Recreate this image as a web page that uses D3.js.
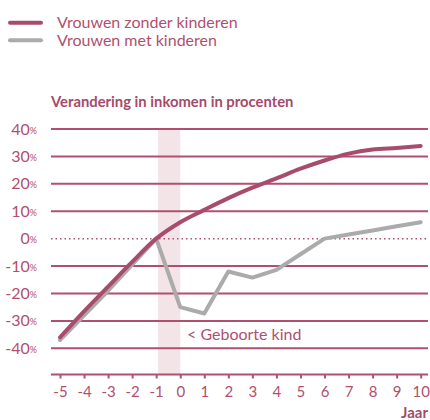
<!DOCTYPE html>
<html>
<head>
<meta charset="utf-8">
<script src="https://cdn.jsdelivr.net/npm/d3@7/dist/d3.min.js"></script>
<style>
  body { margin: 0; background: #fff; }
  text { font-family: Lato, "Open Sans", sans-serif; }
</style>
</head>
<body>
<div class="chart"></div>
<script>
// Data
var years = [-5, -4, -3, -2, -1, 0, 1, 2, 3, 4, 5, 6, 7, 8, 9, 10];
var zonderKinderen = [-36, -26.5, -17.5, -8.5, 0, 6, 10.5, 14.8, 18.6, 22, 25.5, 28.5, 31, 32.5, 33.1, 33.8];
var metKinderen = [-37, -28, -19, -9.5, 0, -25, -27.3, -12, -14.2, -11.4, -5.7, 0, 1.5, 3, 4.5, 6];
var yTicks = [40, 30, 20, 10, 0, -10, -20, -30, -40];
var legendLabels = ["Vrouwen zonder kinderen", "Vrouwen met kinderen"];
var seriesColors = ["#a94b6d", "#ababab"];

var svgWidth = 430;
var svgHeight = 420;
var red = "#b0506f";

var svg = d3.select(".chart")
  .append("svg")
  .attr("width", svgWidth)
  .attr("height", svgHeight);

// Scales
var x = d3.scaleLinear().domain([-5, 10]).range([60, 420.7]);
var y = d3.scaleLinear().domain([-40, 40]).range([348.3, 129]);
var gridLeft = 51, gridRight = 428, axisY = 374.5;

// Shaded band around birth
svg.append("rect")
  .attr("x", x(-0.92))
  .attr("y", y(40))
  .attr("width", x(0) - x(-0.92))
  .attr("height", axisY - y(40))
  .attr("fill", "#f3e4e8");

// Gridlines
svg.selectAll(".grid")
  .data(yTicks)
  .enter()
  .append("line")
  .attr("x1", gridLeft)
  .attr("x2", gridRight)
  .attr("y1", function(d) { return y(d); })
  .attr("y2", function(d) { return y(d); })
  .attr("stroke", red)
  .attr("stroke-width", function(d) { return d === 0 ? 1.5 : 2; })
  .attr("stroke-dasharray", function(d) { return d === 0 ? "1.5,3" : null; });

// Y labels
var yl = svg.selectAll(".ylab")
  .data(yTicks)
  .enter()
  .append("text")
  .attr("x", 37)
  .attr("y", function(d) { return y(d) + 5.5; })
  .attr("text-anchor", "end")
  .attr("fill", red)
  .style("font-size", "16px");
yl.append("tspan").text(function(d) { return d; });
yl.append("tspan").style("font-size", "9px").attr("dy", "-1").text("%");

// X axis
var bottomAxis = d3.axisBottom(x).tickValues(years).tickSize(4).tickPadding(8).tickFormat(d3.format("d"));
var gx = svg.append("g")
  .attr("transform", "translate(0," + axisY + ")")
  .call(bottomAxis);
gx.select(".domain").remove();
gx.append("line")
  .attr("x1", gridLeft).attr("x2", gridRight)
  .attr("stroke", red).attr("stroke-width", 2);
gx.selectAll(".tick line").attr("stroke", red).attr("stroke-width", 2);
gx.selectAll(".tick text")
  .attr("fill", red)
  .style("font-size", "15px")
  .style("font-family", "Lato, sans-serif")
  .text(function(d) { return d < 0 ? "-" + Math.abs(d) : d; });

svg.append("text")
  .attr("x", 428)
  .attr("y", 418)
  .attr("text-anchor", "end")
  .attr("fill", "#a64a6b")
  .style("font-size", "15px")
  .style("font-weight", "bold")
  .text("Jaar");

// Lines
var line = d3.line()
  .x(function(d) { return x(d[0]); })
  .y(function(d) { return y(d[1]); });

svg.append("path")
  .datum(years.map(function(yr, i) { return [yr, metKinderen[i]]; }))
  .attr("d", line)
  .attr("fill", "none")
  .attr("stroke", seriesColors[1])
  .attr("stroke-width", 4)
  .attr("stroke-linejoin", "round")
  .attr("stroke-linecap", "round");

svg.append("path")
  .datum(years.map(function(yr, i) { return [yr, zonderKinderen[i]]; }))
  .attr("d", line.curve(d3.curveMonotoneX))
  .attr("fill", "none")
  .attr("stroke", seriesColors[0])
  .attr("stroke-width", 4)
  .attr("stroke-linejoin", "round")
  .attr("stroke-linecap", "round");

// Annotation
svg.append("text")
  .attr("x", 187)
  .attr("y", 340)
  .attr("fill", red)
  .style("font-size", "16px")
  .text("< Geboorte kind");

// Title
svg.append("text")
  .attr("x", 51)
  .attr("y", 107)
  .attr("fill", "#a64a6b")
  .style("font-size", "14.8px")
  .style("font-weight", "bold")
  .text("Verandering in inkomen in procenten");

// Legend
var legend = svg.selectAll(".legend")
  .data(legendLabels)
  .enter()
  .append("g")
  .attr("transform", function(d, i) { return "translate(0," + (22.7 + i * 17.5) + ")"; });
legend.append("line")
  .attr("x1", 10).attr("x2", 41)
  .attr("stroke", function(d, i) { return seriesColors[i]; })
  .attr("stroke-width", 4)
  .attr("stroke-linecap", "round");
legend.append("text")
  .attr("x", 57)
  .attr("y", 5.5)
  .attr("fill", red)
  .style("font-size", "16px")
  .text(function(d) { return d; });
</script>
</body>
</html>
